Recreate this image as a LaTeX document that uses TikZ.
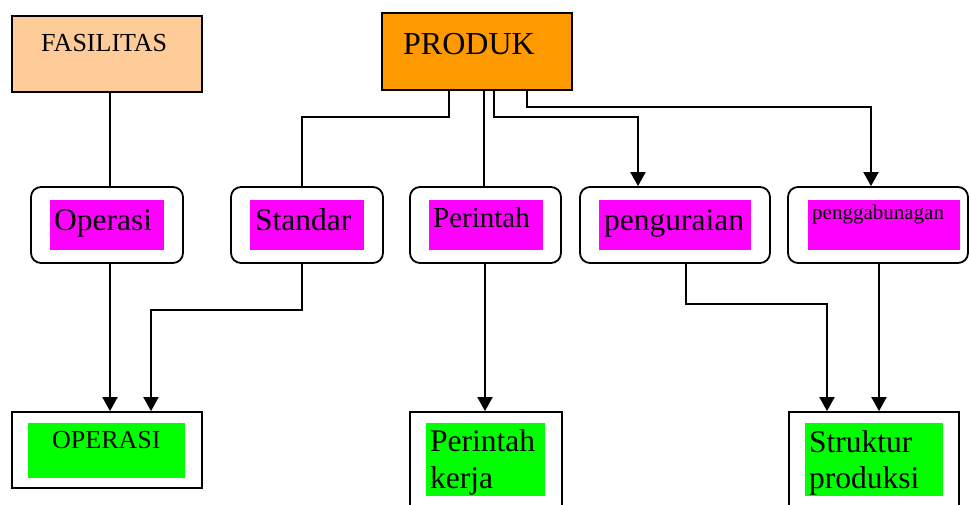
\documentclass[tikz,border=0pt]{standalone}
\usepackage{fontspec}
\setmainfont{Liberation Serif}
\usetikzlibrary{arrows.meta}
\definecolor{peach}{HTML}{FFCC99}
\definecolor{prodorange}{HTML}{FF9900}
\definecolor{tagmagenta}{HTML}{FF00FF}
\definecolor{taggreen}{HTML}{00FF00}
\newcommand\txtsize[1]{\fontsize{#1pt}{37pt}\selectfont}
\begin{document}
\begin{tikzpicture}[x=1pt,y=-1pt,
  sqbox/.style={draw, line width=1.8pt, inner sep=0pt},
  rbox/.style={draw, line width=1.8pt, rounded corners=10pt, fill=white,
               minimum height=76pt, inner sep=0pt},
  tag/.style={inner sep=0pt, outer sep=0pt},
  lbl/.style={anchor=base west, inner sep=0pt},
  thinline/.style={line width=1.3pt},
  arr/.style={line width=2pt, -{Triangle[width=15pt,length=14pt]}}]
\path[use as bounding box, clip] (0,0) rectangle (969,505);

% top row: sources
\node[sqbox, fill=peach, minimum width=190pt, minimum height=76pt] (fas) at (107,54) {};
\node[sqbox, fill=prodorange, minimum width=190pt, minimum height=77pt] (prod) at (477,51.5) {};
\node[lbl] (fastxt) at (41,52) {\txtsize{26}FASILITAS};
\node[lbl] (prodtxt) at (403,55) {\txtsize{32}PRODUK};

% middle row: rounded boxes with magenta tags
\node[rbox, minimum width=152pt] (op) at (107,225) {};
\node[rbox, minimum width=152pt] (std) at (307,225) {};
\node[rbox, minimum width=151pt] (per) at (485.5,225) {};
\node[rbox, minimum width=190pt] (pen) at (675,225) {};
\node[rbox, minimum width=180pt] (gab) at (878,225) {};

\node[tag, fill=tagmagenta, minimum width=114pt, minimum height=50pt] (optag) at (107,225) {};
\node[tag, fill=tagmagenta, minimum width=114pt, minimum height=50pt] (stdtag) at (307,225) {};
\node[tag, fill=tagmagenta, minimum width=114pt, minimum height=50pt] (pertag) at (486,225) {};
\node[tag, fill=tagmagenta, minimum width=152pt, minimum height=50pt] (pentag) at (675,225) {};
\node[tag, fill=tagmagenta, minimum width=152pt, minimum height=50pt] (gabtag) at (884,225) {};

\node[lbl] (optxt) at (54,230) {\txtsize{31.5}Operasi};
\node[lbl] (stdtxt) at (255,230) {\txtsize{31.5}Standar};
\node[lbl] (pertxt) at (433,228) {\txtsize{29}Perintah};
\node[lbl] (pentxt) at (604,230) {\txtsize{31.5}penguraian};
\node[lbl] (gabtxt) at (812,220) {\txtsize{21}penggabunagan};

% bottom row: results with green tags
\node[sqbox, fill=white, minimum width=190pt, minimum height=76pt] (opx) at (107,450) {};
\node[sqbox, fill=white, minimum width=152pt, minimum height=110pt] (perk) at (486,467) {};
\node[sqbox, fill=white, minimum width=170pt, minimum height=110pt] (struk) at (874,467) {};

\node[tag, fill=taggreen, minimum width=157pt, minimum height=55pt] (opxtag) at (106.5,450.5) {};
\node[tag, fill=taggreen, minimum width=119pt, minimum height=73pt] (perktag) at (485.5,459.5) {};
\node[tag, fill=taggreen, minimum width=138pt, minimum height=73pt] (struktag) at (874,459.5) {};

\node[lbl] (opxtxt) at (52,448) {\txtsize{26}OPERASI};
\node[lbl] (perktxta) at (430,451) {\txtsize{31.5}Perintah};
\node[lbl] (perktxtb) at (430,488) {\txtsize{31.5}kerja};
\node[lbl] (struktxta) at (809,452) {\txtsize{31.5}Struktur};
\node[lbl] (struktxtb) at (809,488) {\txtsize{31.5}produksi};

% connectors from the sources
\draw[thinline] ([xshift=3pt]fas.south) -- ([xshift=3pt]op.north);
\draw[thinline] ([xshift=-28pt]prod.south) -- ++(0,26) -| ([xshift=-5pt]std.north);
\draw[thinline] ([xshift=7pt]prod.south) -- ([xshift=-1.5pt]per.north);
\draw[arr] ([xshift=17pt]prod.south) -- ++(0,26) -| ([xshift=-37pt]pen.north);
\draw[arr] ([xshift=50pt]prod.south) -- ++(0,16) -| ([xshift=-7pt]gab.north);

% connectors to the results
\draw[arr] ([xshift=3pt]op.south) -- ([xshift=3pt]opx.north);
\draw[arr] ([xshift=-5pt]std.south) -- ++(0,46) -| ([xshift=44pt]opx.north);
\draw[arr] ([xshift=-0.5pt]per.south) -- ([xshift=-1pt]perk.north);
\draw[arr] ([xshift=11pt]pen.south) -- ++(0,40) -| ([xshift=-47pt]struk.north);
\draw[arr] ([xshift=1pt]gab.south) -- ([xshift=5pt]struk.north);
\end{tikzpicture}
\end{document}
